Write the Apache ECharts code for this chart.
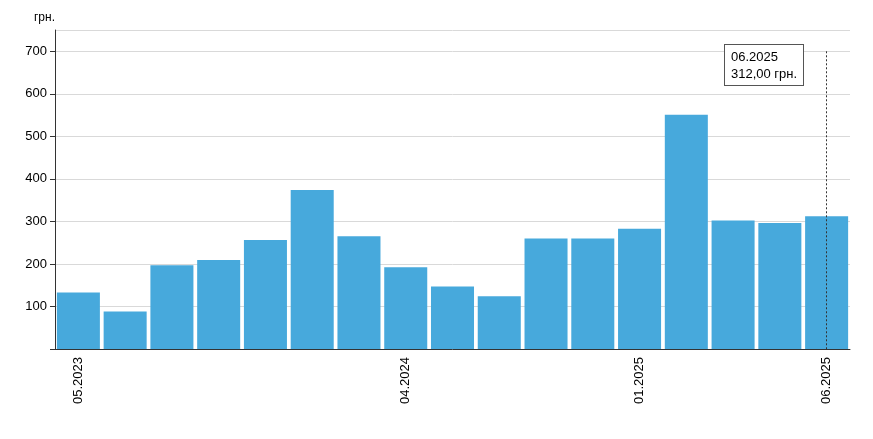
<!DOCTYPE html>
<html>
<head>
<meta charset="utf-8">
<script src="https://cdn.jsdelivr.net/npm/echarts@6/dist/echarts.min.js"></script>
<style>html,body{margin:0;padding:0;background:#fff}#chart{width:873px;height:439px}</style>
</head>
<body>
<div id="chart"></div>
<script>
var months = ['05.2023','07.2023','08.2023','09.2023','10.2023','11.2023','12.2023','04.2024','06.2024','08.2024','10.2024','12.2024','01.2025','02.2025','03.2025','05.2025','06.2025'];
var amounts = [133, 88, 197, 209, 256, 374, 265, 192, 147, 124, 260, 260, 283, 551, 302, 296, 312];
var shownLabels = [0, 7, 12, 16];

var myChart = echarts.init(document.getElementById('chart'));
var last = months.length - 1;
var option = {
    animation: false,
    grid: {left: 55, right: 23, top: 30, bottom: 90},
    tooltip: {
        trigger: 'item',
        alwaysShowContent: true,
        backgroundColor: '#fff',
        borderColor: '#555',
        borderWidth: 1,
        borderRadius: 0,
        padding: [3, 6],
        textStyle: {fontFamily: 'Arial, Liberation Sans', fontSize: 13, color: '#000'},
        extraCssText: 'box-shadow:none;text-align:right;line-height:17px;',
        position: function () { return [724, 44]; },
        formatter: function (p) {
            return '<div style="text-align:left">' + p.name + '</div>' + p.value.toFixed(2).replace('.', ',') + ' грн.';
        }
    },
    xAxis: {
        type: 'category',
        data: months,
        axisLine: {lineStyle: {color: '#333'}},
        axisTick: {alignWithLabel: true, length: 5, interval: function (i) { return shownLabels.indexOf(i) >= 0; }, lineStyle: {color: '#333'}},
        axisLabel: {
            rotate: 90, color: '#000', fontFamily: 'Arial, Liberation Sans', fontSize: 13,
            interval: function (i) { return shownLabels.indexOf(i) >= 0; }
        }
    },
    yAxis: {
        type: 'value',
        min: 0, max: 750, interval: 100,
        name: 'грн.',
        nameGap: 6,
        nameLocation: 'end',
        nameTextStyle: {color: '#000', fontFamily: 'Arial, Liberation Sans', fontSize: 12, align: 'right'},
        axisLine: {show: true, lineStyle: {color: '#333'}},
        axisTick: {show: true, length: 5, lineStyle: {color: '#333'}},
        axisLabel: {color: '#000', fontFamily: 'Arial, Liberation Sans', fontSize: 13, showMaxLabel: false,
            formatter: function (v) { return v === 0 ? '' : v; }},
        splitLine: {lineStyle: {color: '#d9d9d9'}}
    },
    series: [{
        type: 'bar',
        data: amounts,
        barCategoryGap: '8%',
        itemStyle: {color: '#47a9dc'},
        markLine: {
            silent: true,
            symbol: 'none',
            label: {show: false},
            lineStyle: {color: '#333', type: [2, 2], width: 1},
            data: [[{coord: [last, 700]}, {coord: [last, 0]}]]
        }
    }]
};
myChart.setOption(option);
myChart.dispatchAction({type: 'showTip', seriesIndex: 0, dataIndex: last});
</script>
</body>
</html>
